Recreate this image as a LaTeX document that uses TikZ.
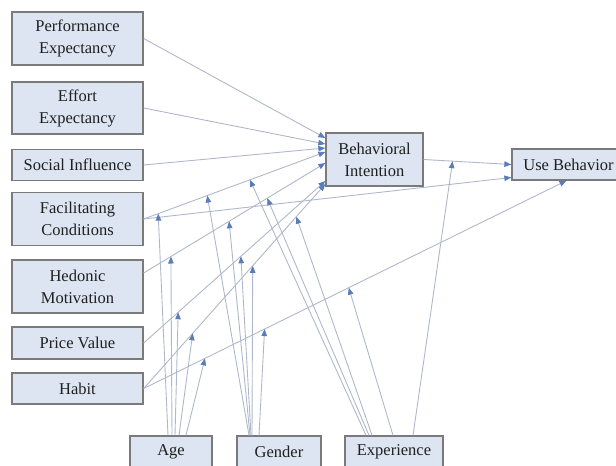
\documentclass[tikz,border=0pt]{standalone}
\usepackage{fontspec}
\setmainfont{Liberation Serif}
\usetikzlibrary{arrows.meta,positioning,calc}

\definecolor{boxfill}{HTML}{DCE5F1}
\definecolor{boxedge}{HTML}{7A7A7A}
\definecolor{linkcol}{HTML}{AFB8CA}
\definecolor{tipcol}{HTML}{5A7DB9}

\begin{document}
\begin{tikzpicture}[
  x=1pt, y=-1pt,
  >={Triangle[length=7pt,width=5.5pt,color=tipcol]},
  box/.style={draw=boxedge, fill=boxfill, line width=1.3pt, inner sep=0pt, align=center,
    text=black!88, font=\fontsize{16.5}{22}\selectfont},
  tall/.style={box, minimum width=131pt, minimum height=53pt},
  flat/.style={box, minimum width=131pt, minimum height=31pt},
  link/.style={draw=linkcol, line width=0.9pt, ->}
]
\useasboundingbox (0,0) rectangle (616,466);

% Constructs
\node[tall] (pe) at (77.5,38.5) {Performance\\Expectancy};
\node[tall, minimum height=52pt] (ee) at (77.5,108) {Effort\\Expectancy};
\node[flat] (si) at (77.5,165) {Social Influence};
\node[tall] (fc) at (77.5,219) {Facilitating\\Conditions};
\node[tall] (hm) at (77.5,286.5) {Hedonic\\Motivation};
\node[flat, minimum height=32pt] (pv) at (77.5,343) {Price Value};
\node[flat] (hab) at (77.5,388.5) {Habit};

\node[tall, minimum width=97pt] (bi) at (374.5,159.5) {Behavioral\\Intention};
\node[flat, minimum width=113pt] (ub) at (568.5,164.5) {Use Behavior};

% Moderators
\node[flat, minimum width=82pt, minimum height=32pt] (age) at (171,452) {Age};
\node[flat, minimum width=84pt, minimum height=32pt] (gen) at (279,452) {Gender};
\node[flat, minimum width=98pt, minimum height=32pt] (exp) at (394,452) {Experience};

% Paths to intention and use
\draw[link] (pe.east) -- ([yshift=21.5pt]bi.west);
\draw[link] (ee.east) -- ([yshift=15.5pt]bi.west);
\draw[link] (si.east) -- ([yshift=11.5pt]bi.west);
\draw[link] (fc.east) -- coordinate[pos=0.08] (fcA) coordinate[pos=0.35] (fcG)
  coordinate[pos=0.585] (fcE) ([yshift=7.5pt]bi.west);
\draw[link] ([yshift=13.5pt]hm.east) -- coordinate[pos=0.15] (hmA) coordinate[pos=0.47] (hmG)
  coordinate[pos=0.68] (hmE) ([yshift=-3.5pt]bi.west);
\draw[link] (pv.east) -- coordinate[pos=0.19] (pvA) coordinate[pos=0.535] (pvG)
  ([yshift=-21.5pt]bi.west);
\draw[link] (hab.east) -- coordinate[pos=0.27] (habA) coordinate[pos=0.6] (habG)
  coordinate[pos=0.84] (habE) ([yshift=-24.5pt]bi.west);

\draw[link] (fc.east) -- ([yshift=-13pt]ub.west);
\draw[link] (hab.east) -- coordinate[pos=0.145] (hubA) coordinate[pos=0.286] (hubG)
  coordinate[pos=0.485] (hubE) ([xshift=-2pt]ub.south);
\draw[link] (bi.east) -- coordinate[pos=0.33] (buE) (ub.west);

% Moderating effects
\foreach \dx/\tgt in {-3/fcA, 1/hmA, 4/pvA, 8/habA, 15/hubA}
  \draw[link] ([xshift=\dx pt]age.north) -- (\tgt);
\foreach \dx/\tgt in {-30/fcG, -29/hmG, -28/pvG, -27/habG, -20/hubG}
  \draw[link] ([xshift=\dx pt]gen.north) -- (\tgt);
\foreach \dx/\tgt in {-28/fcE, -25/hmE, -22/habE, -1/hubE, 19/buE}
  \draw[link] ([xshift=\dx pt]exp.north) -- (\tgt);
\end{tikzpicture}
\end{document}
